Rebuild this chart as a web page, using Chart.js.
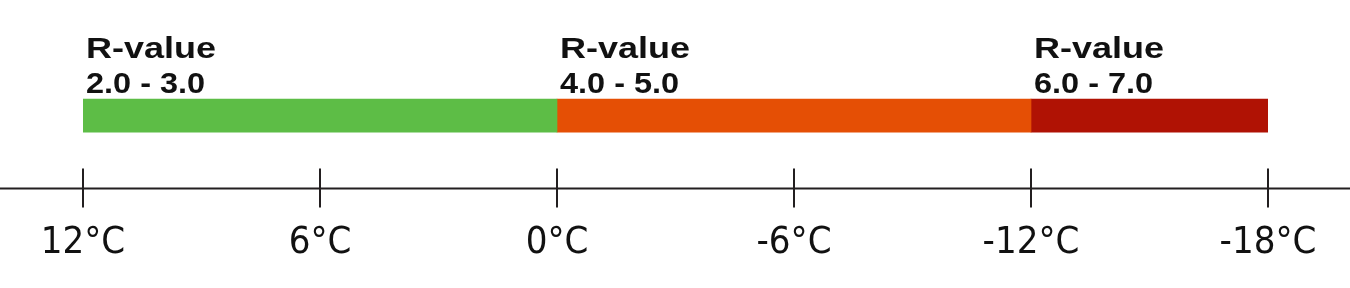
<!DOCTYPE html>
<html>
<head>
<meta charset="utf-8">
<script src="https://cdn.jsdelivr.net/npm/chart.js@4"></script>
<style>
  html, body { margin: 0; padding: 0; background: #fff; }
  #wrap { width: 1350px; height: 288px; }
</style>
</head>
<body>
<div id="wrap"><canvas id="rChart"></canvas></div>
<script>
// temperature bands (°C), left to right
const bandStart = [12, 0, -12];
const bandEnd = [0, -12, -18];
const rangeLabels = ['2.0 - 3.0', '4.0 - 5.0', '6.0 - 7.0'];
const bandColors = ['#5dbd46', '#e54f05', '#b01204'];
const tickValues = [12, 6, 0, -6, -12, -18];

const ink = '#231f20';

// R-value captions above each band + axis line across full width with crossing ticks
const overlay = {
    id: 'overlay',
    afterDraw(chart) {
        const c = chart.ctx;
        const xs = chart.scales.x;
        const bar = chart.getDatasetMeta(0).data[0];
        const barTop = bar.y - bar.height / 2;
        const axisY = xs.top;

        c.save();
        c.fillStyle = '#111';
        c.textAlign = 'left';
        c.textBaseline = 'alphabetic';
        bandStart.forEach((v, i) => {
            const x = xs.getPixelForValue(v) + 3;
            c.save();
            c.translate(x, barTop - 41);
            c.scale(1.2, 1);
            c.font = 'bold 30px "Liberation Sans", Arial, sans-serif';
            c.fillText('R-value', 0, 0);
            c.restore();
            c.save();
            c.translate(x, barTop - 6);
            c.scale(1.12, 1);
            c.font = 'bold 29px "Liberation Sans", Arial, sans-serif';
            c.fillText(rangeLabels[i], 0, 0);
            c.restore();
        });

        c.strokeStyle = ink;
        c.lineWidth = 2;
        c.beginPath();
        c.moveTo(0, axisY);
        c.lineTo(chart.width, axisY);
        tickValues.forEach(v => {
            const x = Math.round(xs.getPixelForValue(v));
            c.moveTo(x, axisY - 20);
            c.lineTo(x, axisY + 19);
        });
        c.stroke();
        c.restore();
    }
};

new Chart(document.getElementById('rChart'), {
    type: 'bar',
    data: {
        labels: ['R-value'],
        datasets: bandStart.map((s, i) => ({
            label: rangeLabels[i],
            data: [[s, bandEnd[i]]],
            backgroundColor: bandColors[i],
            borderWidth: 0,
            barThickness: 33,
            grouped: false
        }))
    },
    options: {
        indexAxis: 'y',
        responsive: true,
        maintainAspectRatio: false,
        animation: false,
        layout: { padding: { left: 83, right: 82, top: 43, bottom: -10 } },
        plugins: {
            legend: { display: false },
            tooltip: { enabled: false }
        },
        scales: {
            x: {
                min: -18,
                max: 12,
                reverse: true,
                border: { display: false },
                grid: { display: false, drawTicks: false },
                ticks: {
                    stepSize: 6,
                    padding: 32,
                    color: '#111',
                    font: { family: '"Liberation Sans Narrow", "DejaVu Sans Condensed", sans-serif', size: 38 },
                    callback: v => v + '°C'
                }
            },
            y: { display: false }
        }
    },
    plugins: [overlay]
});
</script>
</body>
</html>
